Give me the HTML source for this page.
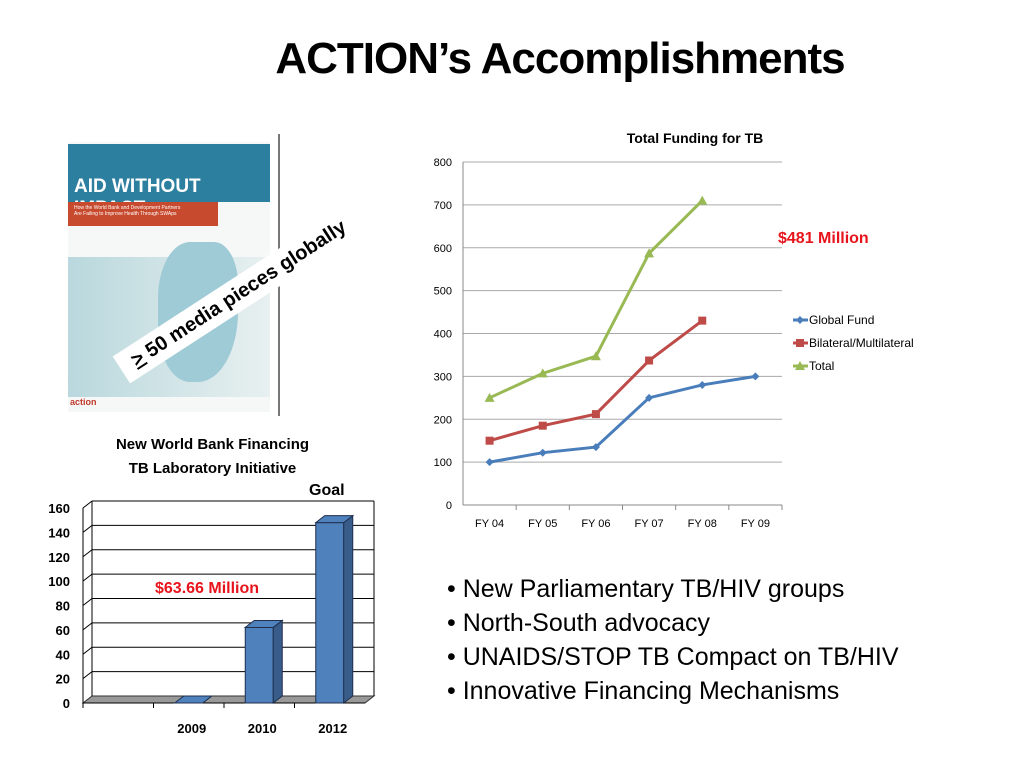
<!DOCTYPE html>
<html><head><meta charset="utf-8"><style>
body{margin:0;width:1024px;height:768px;background:#fff;font-family:"Liberation Sans",sans-serif;overflow:hidden;position:relative}
.abs{position:absolute}
</style></head><body>
<div class="abs" style="left:0;width:1120px;top:34px;text-align:center;font-size:44px;font-weight:bold;font-family:'Liberation Sans Narrow','Liberation Sans',sans-serif;letter-spacing:-1px">ACTION’s Accomplishments</div>

<div class="abs" style="left:68px;top:142px;width:202px;height:270px;background:#f6f8f8">
  <div style="position:absolute;left:0;top:2px;width:202px;height:58px;background:#2d7fa0;color:#fff;font-weight:bold;font-size:19px;font-family:'Liberation Sans Narrow',sans-serif;padding:32px 0 0 6px;box-sizing:border-box">AID WITHOUT IMPACT</div>
  <div style="position:absolute;left:0;top:60px;width:150px;height:24px;background:#c84a2e;color:#fff;font-size:5px;padding:3px 0 0 6px;box-sizing:border-box">How the World Bank and Development Partners<br>Are Failing to Improve Health Through SWAps</div>
  <div style="position:absolute;left:0;top:115px;width:202px;height:140px;background:linear-gradient(90deg,#b9d8dd,#e8f0f0)"></div>
  <div style="position:absolute;left:90px;top:100px;width:80px;height:140px;background:#9fcbd6;border-radius:40% 30% 50% 40%"></div>
  <div style="position:absolute;left:2px;top:255px;font-size:9px;font-weight:bold;color:#c0392b">action</div>
</div>
<div class="abs" style="left:278px;top:134px;width:2px;height:282px;background:#777"></div>
<div class="abs" style="left:98px;top:275px;width:290px;height:32px;background:#fff;transform:rotate(-33deg);font-size:20px;font-weight:bold;line-height:32px;padding-left:14px;box-sizing:border-box"><u>&gt;</u> 50 media pieces globally</div>

<div class="abs" style="left:60px;width:305px;top:433px;text-align:center;font-size:15px;font-weight:bold;line-height:24px">New World Bank Financing<br>TB Laboratory Initiative</div>

<svg class="abs" style="left:0;top:0" width="1024" height="768" id="svg">
<g id="bars"></g><g id="lines"></g>
</svg>
<div class="abs" style="left:309px;top:482px;font-size:16px;font-weight:bold">Goal</div>
<div class="abs" style="left:155px;top:580px;font-size:16px;font-weight:bold;color:#e8141b">$63.66 Million</div>
<div class="abs" style="left:778px;top:230px;font-size:16px;font-weight:bold;color:#e8141b">$481 Million</div>

<div class="abs" style="left:447px;top:572px;font-size:25px;line-height:34px">
<div>• New Parliamentary TB/HIV groups</div>
<div>• North-South advocacy</div>
<div>• UNAIDS/STOP TB Compact on TB/HIV</div>
<div>• Innovative Financing Mechanisms</div>
</div>

<script>
const barCats=["","2009","2010","2012"];
const barVals=[0,0,62,148];
const barTicks=[0,20,40,60,80,100,120,140,160];
const lineCats=["FY 04","FY 05","FY 06","FY 07","FY 08","FY 09"];
const globalFund=[100,122,135,250,280,300];
const bilateral=[150,185,212,337,430];
const total=[250,307,347,587,710];
const lineTicks=[0,100,200,300,400,500,600,700,800];

const NS="http://www.w3.org/2000/svg";
function mk(t,a,p){const e=document.createElementNS(NS,t);for(const k in a)e.setAttribute(k,a[k]);p.appendChild(e);return e;}
// bar chart
const bg=document.getElementById('bars');
const bx0=83,bx1=365,by0=703,by1=508,dx=9,dy=7;
const by=v=>by0-(v-0)/160*(by0-by1);
const slot=(bx1-bx0)/4;
const bxc=i=>bx0+slot*(i+0.5);
mk('polygon',{points:`${bx0},${by0} ${bx0+dx},${by0-dy} ${bx1+dx},${by0-dy} ${bx1},${by0}`,fill:'#999',stroke:'#333','stroke-width':1},bg);
barTicks.forEach(t=>{
  const y=by(t);
  if(t>0){const l=mk('line',{x1:bx0+dx,y1:y-dy,x2:bx1+dx,y2:y-dy,stroke:'#000','stroke-width':1},bg);
  mk('line',{x1:bx0,y1:y,x2:bx0+dx,y2:y-dy,stroke:'#000'},bg);}
  const tx=mk('text',{x:70,y:y+5,'text-anchor':'end','font-size':13,'font-weight':'bold','font-family':'Liberation Sans'},bg);tx.textContent=t;
  
});
mk('line',{x1:bx0+dx,y1:by1-dy,x2:bx0+dx,y2:by0-dy,stroke:'#000'},bg);
mk('line',{x1:bx1+dx,y1:by1-dy,x2:bx1+dx,y2:by0-dy,stroke:'#000'},bg);
mk('line',{x1:bx0,y1:by1,x2:bx0,y2:by0,stroke:'#000'},bg);
mk('line',{x1:bx0,y1:by0,x2:bx1,y2:by0,stroke:'#000'},bg);
barCats.forEach((c,i)=>{
  const x=bxc(i),w=28,v=barVals[i],yt=by(v),xl=x-w/2;
  const g=mk('g',{},bg);
  if(c){
    mk('rect',{x:xl,y:yt,width:w,height:by0-yt,fill:'#4f81bd',stroke:'#1f2f4f'},g);
    mk('polygon',{points:`${xl+w},${yt} ${xl+w+dx},${yt-dy} ${xl+w+dx},${by0-dy} ${xl+w},${by0}`,fill:'#385d8a',stroke:'#1f2f4f'},g);
    mk('polygon',{points:`${xl},${yt} ${xl+dx},${yt-dy} ${xl+w+dx},${yt-dy} ${xl+w},${yt}`,fill:'#4f81bd',stroke:'#1f2f4f'},g);
    const t=mk('text',{x:x+3,y:733,'text-anchor':'middle','font-size':13,'font-weight':'bold','font-family':'Liberation Sans'},bg);t.textContent=c;
    
  }
  mk('line',{x1:bx0+slot*i,y1:by0,x2:bx0+slot*i,y2:by0+5,stroke:'#000'},bg);
});
// line chart
const lg=document.getElementById('lines');
const lx0=463,lx1=782,ly0=505,ly1=162;
const ly=v=>ly0-v/800*(ly0-ly1);
const lstep=(lx1-lx0)/lineCats.length;
const lx=i=>lx0+lstep*(i+0.5);
const tt=mk('text',{x:695,y:143,'text-anchor':'middle','font-size':14,'font-weight':'bold','font-family':'Liberation Sans'},lg);tt.textContent='Total Funding for TB';

lineTicks.forEach(t=>{
  const y=ly(t);
  const l=mk('line',{x1:lx0,y1:y,x2:lx1,y2:y,stroke:t?'#aaa':'#888'},lg);
  const tx=mk('text',{x:452,y:y+4,'text-anchor':'end','font-size':11,'font-family':'Liberation Sans'},lg);tx.textContent=t;
  
});
mk('line',{x1:lx0,y1:ly1,x2:lx0,y2:ly0,stroke:'#888'},lg);
lineCats.forEach((c,i)=>{
  mk('line',{x1:lx0+lstep*(i+1),y1:ly0,x2:lx0+lstep*(i+1),y2:ly0+5,stroke:'#888'},lg);
  const t=mk('text',{x:lx(i),y:527,'text-anchor':'middle','font-size':11,'font-family':'Liberation Sans'},lg);t.textContent=c;
  
});
function marker(shape,x,y,col,p){
  if(shape==='d')mk('polygon',{points:`${x},${y-4} ${x+4},${y} ${x},${y+4} ${x-4},${y}`,fill:col},p);
  else if(shape==='s')mk('rect',{x:x-4,y:y-4,width:8,height:8,fill:col},p);
  else mk('polygon',{points:`${x},${y-5} ${x+5},${y+4} ${x-5},${y+4}`,fill:col},p);
}
const series=[["global-fund",globalFund,'#4a7ebb','d',"Global Fund"],["bilateral",bilateral,'#be4b48','s',"Bilateral/Multilateral"],["total",total,'#98b954','t',"Total"]];
series.forEach(([n,vals,col,sh,lab],k)=>{
  const g=mk('g',{},lg);
  mk('polyline',{points:vals.map((v,i)=>lx(i)+','+ly(v)).join(' '),fill:'none',stroke:col,'stroke-width':3},g);
  vals.forEach((v,i)=>marker(sh,lx(i),ly(v),col,g));
  const ey=320+k*23;
  const le=mk('g',{},lg);
  mk('line',{x1:793,y1:ey,x2:808,y2:ey,stroke:col,'stroke-width':3},le);
  marker(sh,800,ey,col,le);
  const t=mk('text',{x:809,y:ey+4,'font-size':12,'font-family':'Liberation Sans'},le);t.textContent=lab;
});
</script>
</body></html>
